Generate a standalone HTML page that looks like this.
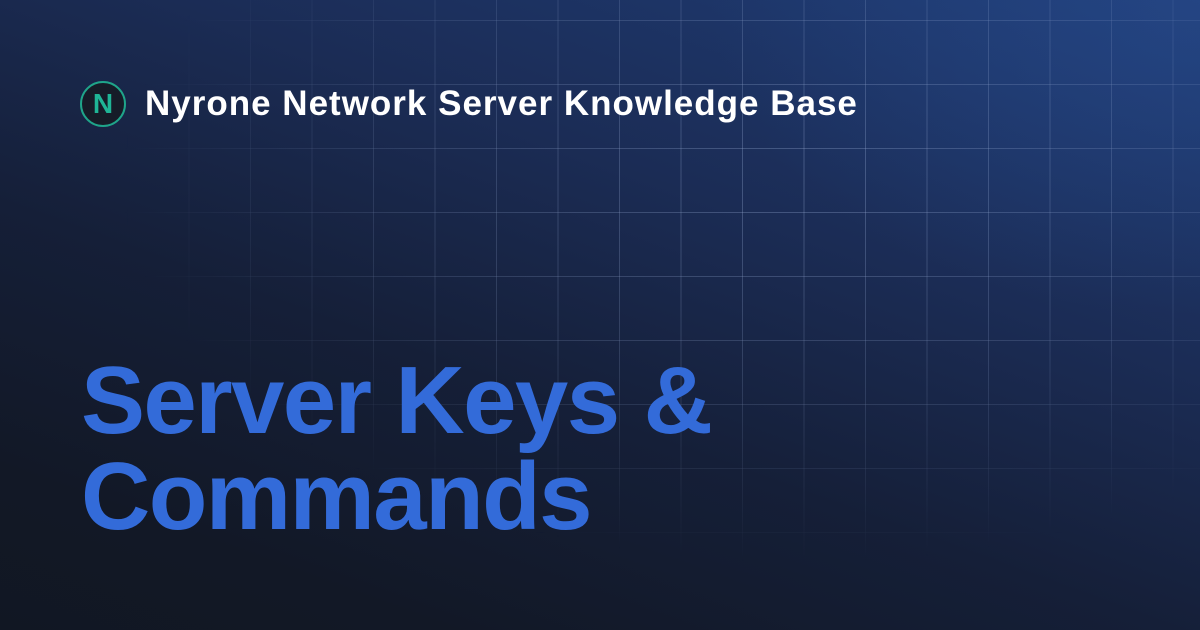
<!DOCTYPE html>
<html><head><meta charset="utf-8"><style>
html,body{margin:0;padding:0;}
body{width:1200px;height:630px;overflow:hidden;position:relative;
background:linear-gradient(200deg,#1f3d78 0%,#1b2c55 35%,#151f38 60%,#121826 85%,#111723 100%);
font-family:"Liberation Sans",sans-serif;}
.glow{position:absolute;inset:0;background:radial-gradient(ellipse 700px 450px at 1200px 0px,rgba(40,75,140,0.55),rgba(0,0,0,0) 70%);}
.grid{position:absolute;inset:0;
background-image:linear-gradient(to right,rgba(160,180,220,0.32) 1px,transparent 1px),linear-gradient(to bottom,rgba(160,180,220,0.32) 1px,transparent 1px);
background-size:61.5px 64px;background-position:4px 20px;
-webkit-mask-image:radial-gradient(ellipse 850px 480px at 800px 180px,#000 0%,rgba(0,0,0,0.55) 45%,rgba(0,0,0,0) 80%);
mask-image:radial-gradient(ellipse 850px 480px at 800px 180px,#000 0%,rgba(0,0,0,0.55) 45%,rgba(0,0,0,0) 80%);}
.logo{position:absolute;left:80px;top:81px;width:42px;height:42px;border:2px solid #1fa58a;border-radius:50%;background:#161c28;
color:#1fb596;font-weight:bold;font-size:28px;text-align:center;line-height:42px;}
.hdr{position:absolute;left:145px;top:83px;color:#fff;font-weight:bold;font-size:35px;line-height:42px;letter-spacing:1px;white-space:nowrap;}
.title{position:absolute;left:81px;top:353px;color:#336bd9;font-weight:bold;font-size:96px;line-height:96px;letter-spacing:-1.6px;white-space:nowrap;}
</style></head><body>
<div class="glow"></div>
<div class="grid"></div>
<div class="logo">N</div>
<div class="hdr">Nyrone Network Server Knowledge Base</div>
<div class="title">Server Keys &amp;<br>Commands</div>
</body></html>
